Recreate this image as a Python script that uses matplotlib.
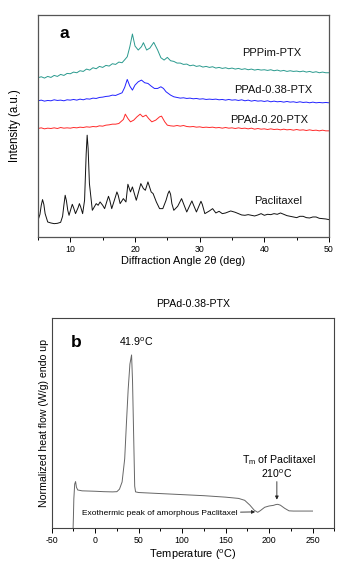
import matplotlib
matplotlib.use("Agg")
import matplotlib.pyplot as plt

plt.rcParams['font.family'] = ['Liberation Sans', 'DejaVu Sans']
plt.rcParams['mathtext.fontset'] = 'custom'
plt.rcParams['mathtext.rm'] = 'Liberation Sans'
plt.rcParams['axes.unicode_minus'] = False

# ---------------- Panel a: XRD ----------------
ptx_x = [5.0, 5.3, 5.5, 5.7, 5.9, 6.1, 6.5, 7.0, 7.5, 8.0, 8.5, 8.8, 9.0, 9.2, 9.4, 9.6, 9.8,
         10.1, 10.3, 10.5, 10.8, 11.2, 11.4, 11.6, 11.9, 12.2, 12.45, 12.6, 12.75, 12.95, 13.4,
         14.0, 14.3, 14.6, 15.0, 15.3, 15.7, 15.9, 16.1, 16.4, 17.0, 17.2, 17.4, 17.7, 18.2, 18.6,
         18.9, 19.3, 19.6, 20.2, 20.9, 21.3, 21.6, 22.0, 22.5, 22.8, 23.3, 23.8, 24.3, 24.8, 25.1,
         25.3, 25.5, 25.7, 26.0, 26.6, 27.2, 27.6, 28.0, 28.6, 28.8, 29.0, 29.5, 30.0, 30.2, 30.4,
         30.8, 31.5, 32.0, 32.5, 33.0, 33.5, 34.0, 34.8, 35.5, 36.0, 36.5, 37.0, 37.5, 38.0, 38.5,
         39.0, 39.5, 40.0, 40.5, 41.0, 41.5, 42.0, 42.5, 43.0, 43.5, 44.0, 44.5, 45.0, 45.5, 46.0,
         46.5, 47.0, 47.5, 48.0, 48.5, 49.0, 49.5, 50.0]
ptx_y = [50, 68, 95, 112, 98, 70, 45, 42, 40, 41, 44, 62, 95, 125, 108, 80, 65,
         85, 98, 88, 70, 88, 100, 90, 70, 110, 250, 305, 265, 160, 80,
         100, 95, 105, 95, 85, 110, 122, 110, 85, 122, 135, 125, 100, 115, 105,
         158, 135, 150, 110, 160, 145, 140, 165, 135, 130, 105, 85, 85, 110, 130,
         138, 128, 100, 80, 92, 115, 95, 75, 100, 108, 98, 75, 98, 107, 98,
         70, 78, 85, 72, 77, 70, 72, 78, 74, 70, 66, 65, 67, 65, 63,
         66, 70, 65, 68, 67, 70, 68, 72, 68, 64, 62, 60, 58, 62, 62,
         58, 57, 60, 60, 56, 55, 54, 52]

pppim_x = [5, 5.5, 6, 6.5, 7, 7.5, 8, 8.5, 9, 9.5, 10, 10.5, 11, 11.5, 12, 12.5, 13, 13.5, 14,
           14.5, 15, 15.5, 16, 16.5, 17, 17.5, 18, 18.5,
           18.8, 19.2, 19.6, 20.0, 20.5, 21.0, 21.3, 21.8, 22.3, 22.9, 23.5, 24.0, 24.5, 25.0, 25.5,
           26, 26.5, 27, 27.5, 28, 28.5, 29, 29.5, 30, 30.5, 31, 31.5, 32, 32.5, 33, 33.5, 34, 34.5,
           35, 35.5, 36, 36.5, 37, 37.5, 38, 38.5, 39, 39.5, 40, 40.5, 41, 41.5, 42, 42.5, 43, 43.5,
           44, 44.5, 45, 45.5, 46, 46.5, 47, 47.5, 48, 48.5, 49, 49.5, 50]
pppim_y = [477, 480, 476, 481, 478, 484, 481, 487, 484, 490, 489, 494, 492, 498, 496, 503, 500, 507,
           504, 511, 508, 514, 512, 519, 517, 524, 522, 533,
           540, 570, 608, 572, 560, 570, 582, 560, 566, 583, 560, 537, 530, 538, 528,
           526, 521, 521, 517, 518, 513, 515, 511, 513, 509, 511, 508, 510, 506, 508, 505, 507, 504,
           506, 503, 505, 502, 504, 501, 503, 500, 502, 500, 501, 499, 501, 498, 500, 497, 499, 496,
           498, 496, 497, 495, 497, 494, 496, 493, 495, 492, 494, 492, 492]

ppad38_x = [5, 5.5, 6, 6.5, 7, 7.5, 8, 8.5, 9, 9.5, 10, 10.5, 11, 11.5, 12, 12.5, 13, 13.5, 14,
            14.5, 15, 15.5, 16, 16.5, 17, 17.5,
            18, 18.4, 18.8, 19.2, 19.6, 20, 20.5, 21, 21.5, 22, 22.5, 23, 23.5, 24, 24.4, 24.8, 25.5,
            26, 26.5, 27, 27.5, 28, 28.5, 29, 29.5, 30, 30.5, 31, 31.5, 32, 32.5, 33, 33.5, 34, 34.5,
            35, 35.5, 36, 36.5, 37, 37.5, 38, 38.5, 39, 39.5, 40, 40.5, 41, 41.5, 42, 42.5, 43, 43.5,
            44, 44.5, 45, 45.5, 46, 46.5, 47, 47.5, 48, 48.5, 49, 49.5, 50]
ppad38_y = [408, 410, 407, 409, 408, 411, 409, 410, 408, 411, 410, 412, 410, 413, 411, 414, 413, 416,
            415, 418, 419, 421, 422, 425, 424, 428,
            432, 448, 472, 452, 440, 455, 465, 470, 462, 460, 452, 445, 445, 450, 445, 435, 425,
            420, 418, 416, 417, 415, 416, 414, 415, 413, 414, 412, 413, 412, 413, 411, 412, 410,
            412, 410, 411, 409, 411, 408, 410, 407, 409, 407, 408, 406, 408, 405, 407, 405, 406,
            404, 406, 404, 405, 403, 405, 403, 404, 402, 404, 402, 403, 402, 403, 402]

ppad20_x = [5, 5.5, 6, 6.5, 7, 7.5, 8, 8.5, 9, 9.5, 10, 10.5, 11, 11.5, 12, 12.5, 13, 13.5, 14,
            14.5, 15, 15.5, 16, 16.5, 17, 17.5,
            18.2, 18.5, 18.9, 19.3, 19.8, 20.3, 20.8, 21.2, 21.7, 22.1, 22.6, 23.2, 23.8, 24.1, 24.6, 25,
            25.5, 26, 26.5, 27, 27.5, 28, 28.5, 29, 29.5, 30, 30.5, 31, 31.5, 32, 32.5, 33, 33.5, 34,
            34.5, 35, 35.5, 36, 36.5, 37, 37.5, 38, 38.5, 39, 39.5, 40, 40.5, 41, 41.5, 42, 42.5, 43,
            43.5, 44, 44.5, 45, 45.5, 46, 46.5, 47, 47.5, 48, 48.5, 49, 49.5, 50]
ppad20_y = [325, 327, 324, 326, 325, 327, 325, 328, 326, 327, 326, 328, 327, 329, 328, 330, 329, 331,
            330, 333, 332, 335, 336, 338, 338, 340,
            352, 368, 355, 345, 350, 360, 368, 360, 365, 355, 345, 350, 360, 362, 345, 335,
            333, 332, 334, 332, 334, 331, 330, 331, 329, 330, 328, 329, 328, 329, 327, 328, 326, 328,
            326, 327, 325, 327, 325, 326, 324, 326, 323, 325, 323, 324, 322, 324, 322, 323, 321, 323,
            321, 322, 320, 322, 320, 321, 319, 321, 319, 320, 318, 320, 318, 318]

xrd_labels = ["PPPim-PTX", "PPAd-0.38-PTX", "PPAd-0.20-PTX", "Paclitaxel"]
xrd_colors = ["#2a9a8e", "#2222ff", "#ff2a2a", "#111111"]
xrd_label_pos = [(41.2, 550), (41.4, 440), (40.7, 350), (42.1, 107)]

# ---------------- Panel b: DSC ----------------
dsc_T = [-25.5, -25.0, -24.5, -23.5, -22.5, -21.5, -20, -15, 0, 10, 20, 25, 28, 31, 34, 36, 38,
         40, 41.9, 43, 44.5, 45.5, 46.5, 50, 75, 100, 125, 150, 165, 172, 178, 183, 187, 190,
         195, 200, 205, 208, 210, 213, 218, 223, 228, 250]
dsc_H = [-2, 5, 14, 21, 22.2, 19.5, 18.2, 17.8, 17.6, 17.4, 17.3, 17.4, 18.6, 22, 33, 50, 66,
         78, 82.3, 70, 40, 20, 17.3, 17.0, 16.5, 16.0, 15.5, 14.8, 14.2, 13.3, 11.0, 8.6, 7.6, 8.4,
         10.0, 10.6, 10.9, 11.3, 11.4, 11.0, 9.5, 8.3, 8.2, 8.2]

fig = plt.figure(figsize=(3.5, 5.7), dpi=100)

# Panel a
axa = fig.add_axes([0.1086, 0.5842, 0.8314, 0.3895])
for xs, ys, c in zip([pppim_x, ppad38_x, ppad20_x, ptx_x], [pppim_y, ppad38_y, ppad20_y, ptx_y], xrd_colors):
    axa.plot(xs, ys, color=c, lw=0.7)
for lab, (lx, ly) in zip(xrd_labels, xrd_label_pos):
    axa.text(lx, ly, lab, fontsize=8, ha='center', va='center', color='#111111')
axa.text(9.1, 610, "a", fontsize=12.5, fontweight='bold', ha='center', va='center')
axa.set_xlim(5, 50)
axa.set_ylim(0, 665)
axa.set_xticks([10, 20, 30, 40, 50])
axa.set_xticks([5, 15, 25, 35, 45], minor=True)
axa.set_yticks([])
axa.tick_params(axis='x', which='major', direction='out', length=3.5, width=0.7, labelsize=6.3, pad=2)
axa.tick_params(axis='x', which='minor', direction='out', length=2, width=0.7)
axa.set_xlabel("Diffraction Angle 2θ (deg)", fontsize=7.9, labelpad=2)
axa.set_ylabel("Intensity (a.u.)", fontsize=8.3, labelpad=12)
for s in axa.spines.values():
    s.set_color('#555555')
    s.set_linewidth(0.9)

# Panel b
axb = fig.add_axes([0.1476, 0.0731, 0.8074, 0.3696])
axb.plot(dsc_T, dsc_H, color='#666666', lw=0.7)
axb.set_xlim(-50, 275)
axb.set_ylim(0, 100)
axb.set_xticks([-50, 0, 50, 100, 150, 200, 250])
axb.set_xticks([-25, 25, 75, 125, 175, 225, 275], minor=True)
axb.set_yticks([])
axb.tick_params(axis='x', which='major', direction='out', length=3.5, width=0.7, labelsize=6.3, pad=2)
axb.tick_params(axis='x', which='minor', direction='out', length=2, width=0.7)
axb.set_xlabel("Temperature ($^\\mathrm{o}$C)", fontsize=7.9, labelpad=2)
axb.set_ylabel("Normalized heat flow (W/g) endo up", fontsize=7.6, labelpad=2)
axb.set_title("PPAd-0.38-PTX", fontsize=7.6, pad=8)
for s in axb.spines.values():
    s.set_color('#444444')
    s.set_linewidth(0.8)

axb.text(-22, 88, "b", fontsize=12.5, fontweight='bold', ha='center', va='center')
axb.text(47, 88.5, "41.9$^\\mathrm{o}$C", fontsize=7.7, ha='center', va='center')
axb.text(211, 32.5, "T$_\\mathrm{m}$ of Paclitaxel", fontsize=7.6, ha='center', va='center')
axb.text(209, 26, "210$^\\mathrm{o}$C", fontsize=7.6, ha='center', va='center')
axb.annotate("", xy=(209, 12.3), xytext=(209, 23.5),
             arrowprops=dict(arrowstyle='-|>', color='#222222', lw=0.6, mutation_scale=5))
axb.annotate("Exothermic peak of amorphous Paclitaxel", xy=(184, 7.8), xytext=(-15, 7.1),
             fontsize=6.0, ha='left', va='center',
             arrowprops=dict(arrowstyle='-|>', color='#222222', lw=0.6, mutation_scale=5,
                             shrinkA=0, shrinkB=0))

fig.savefig("out.png", dpi=100)
